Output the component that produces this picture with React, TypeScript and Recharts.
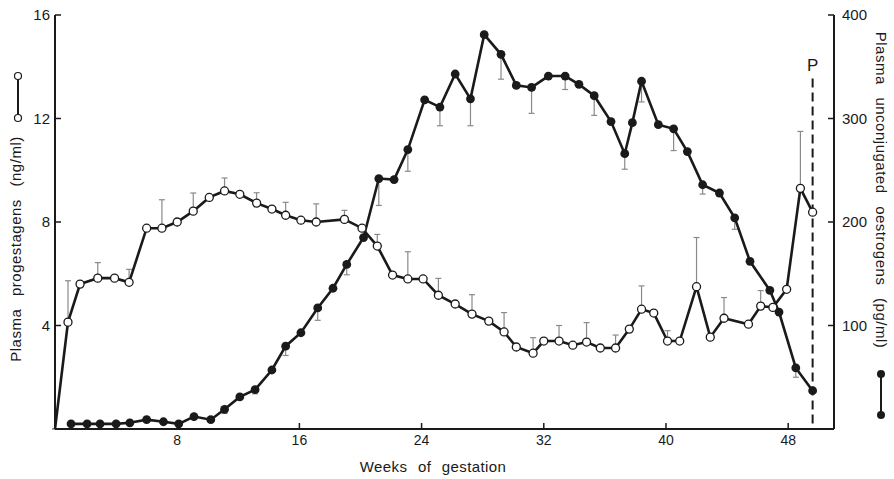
import { LineChart, Line, XAxis, YAxis, ErrorBar, ReferenceLine, ReferenceDot } from 'recharts';

const FONT = '"Liberation Sans", Arial, Helvetica, sans-serif';
const INK = '#1a1a1a';
const BAR = '#8a8a8a';

// progestagens, ng/ml (open circles); first point is the origin, drawn without a marker
const progWeeks = [
  0, 0.85, 1.64, 2.8, 3.9, 4.85, 6.0, 7.0, 8.0, 9.05, 10.1, 11.1, 12.1, 13.2, 14.2, 15.1, 16.1, 17.1,
  18.95, 20.1, 21.1, 22.1, 23.1, 24.1, 25.1, 26.2, 27.3, 28.4, 29.4, 30.2, 31.3, 32.0, 33.0, 33.9,
  34.8, 35.7, 36.7, 37.6, 38.4, 39.2, 40.1, 40.9, 42.0, 42.9, 43.8, 45.4, 46.2, 47.0, 47.9, 48.8, 49.6,
];
const progValues = [
  0, 4.13, 5.6, 5.83, 5.83, 5.67, 7.76, 7.76, 8.0, 8.42, 8.95, 9.2, 9.07, 8.73, 8.5, 8.26, 8.07, 8.0,
  8.1, 7.76, 7.07, 5.95, 5.8, 5.8, 5.17, 4.83, 4.44, 4.17, 3.75, 3.17, 2.93, 3.4, 3.4, 3.24,
  3.36, 3.13, 3.13, 3.86, 4.63, 4.48, 3.4, 3.4, 5.5, 3.55, 4.28, 4.05, 4.75, 4.7, 5.4, 9.3, 8.38,
];
const progErrUp = [
  0, 1.6, 0, 0.6, 0, 0.5, 0, 1.1, 0, 0.7, 0, 0.5, 0, 0.4, 0, 0.5, 0, 0.7,
  0.35, 0, 0.45, 0, 1.05, 0, 0.65, 0, 0.75, 0, 0.75, 0, 0.6, 0, 0.6, 0,
  0.75, 0, 0.5, 0, 0.9, 0, 0.4, 0, 1.9, 0, 0.8, 0, 0.6, 0, 0, 2.2, 0,
];

// unconjugated oestrogens, pg/ml (filled circles)
const oesWeeks = [
  1.05, 2.1, 2.95, 4.0, 4.9, 6.0, 7.1, 8.1, 9.1, 10.2, 11.1, 12.1, 13.1, 14.2, 15.1, 16.1, 17.2,
  18.2, 19.1, 20.2, 21.2, 22.2, 23.1, 24.2, 25.2, 26.2, 27.2, 28.1, 29.2, 30.2, 31.2, 32.3, 33.4,
  34.3, 35.3, 36.4, 37.3, 37.8, 38.4, 39.5, 40.5, 41.4, 42.4, 43.5, 44.5, 45.5, 46.8, 47.4, 48.5, 49.6,
];
const oesValues = [
  5, 5, 5, 5, 6, 9, 7, 5, 12, 9, 19, 31, 38, 57, 80, 93, 117,
  136, 159, 185, 242, 241, 270, 318, 311, 343, 319, 381, 362, 332, 330, 341, 341,
  333, 322, 297, 266, 296, 336, 294, 290, 268, 236, 228, 204, 162, 134, 113, 59, 37,
];
const oesErrDown = [
  0, 0, 0, 0, 0, 0, 0, 0, 0, 0, 4, 0, 4, 0, 9, 0, 12,
  0, 10, 0, 26, 0, 21, 0, 18, 0, 26, 0, 24, 0, 25, 0, 13,
  0, 19, 0, 15, 0, 20, 0, 21, 0, 9, 0, 11, 0, 0, 0, 9, 0,
];

const weekTicks = [8, 16, 24, 32, 40, 48];
const progTicks = [4, 8, 12, 16];
const oesTicks = [100, 200, 300, 400];
const partusWeek = 49.6;

const progData = progWeeks.map((week, i) => ({ week, value: progValues[i], err: [0, progErrUp[i]] }));
const oesData = oesWeeks.map((week, i) => ({ week, value: oesValues[i], err: [oesErrDown[i], 0] }));

const textStyle = { fontFamily: FONT, fill: INK };

const OpenDot = (props: any) => {
  const { cx, cy, index } = props;
  if (index === 0 || cx == null) return <g key={`o-${index}`} />;
  return <circle key={`o-${index}`} cx={cx} cy={cy} r={4} fill="#fff" stroke={INK} strokeWidth={1.3} />;
};

const FilledDot = (props: any) => {
  const { cx, cy, index } = props;
  if (cx == null) return <g key={`f-${index}`} />;
  return <circle key={`f-${index}`} cx={cx} cy={cy} r={4.4} fill={INK} stroke="none" />;
};

const LeftTick = ({ x, y, payload }: any) => (
  <g>
    <line x1={x + 5} x2={x + 11} y1={y} y2={y} stroke={INK} strokeWidth={1.5} />
    <text x={x} y={y} dy="0.36em" textAnchor="end" fontSize={15} {...textStyle}>
      {payload.value}
    </text>
  </g>
);

const RightTick = ({ x, y, payload }: any) => (
  <g>
    <line x1={x - 8} x2={x - 14} y1={y} y2={y} stroke={INK} strokeWidth={1.5} />
    <text x={x} y={y} dy="0.36em" textAnchor="start" fontSize={15} {...textStyle}>
      {payload.value}
    </text>
  </g>
);

const BottomTick = ({ x, y, payload }: any) => (
  <g>
    <line x1={x} x2={x} y1={y - 5} y2={y - 11} stroke={INK} strokeWidth={1.5} />
    <text x={x} y={y} dy="0.75em" textAnchor="middle" fontSize={14} {...textStyle}>
      {payload.value}
    </text>
  </g>
);

const LeftTitle = ({ viewBox }: any) => {
  const x = viewBox.x + 16;
  const y = 249;
  return (
    <text x={x} y={y} transform={`rotate(-90 ${x} ${y})`} textAnchor="middle" dy="0.35em"
      fontSize={15} letterSpacing={0.5} wordSpacing={8} {...textStyle}>
      Plasma progestagens (ng/ml)
    </text>
  );
};

const RightTitle = ({ viewBox }: any) => {
  const x = viewBox.x + 47;
  const y = 190;
  return (
    <text x={x} y={y} transform={`rotate(90 ${x} ${y})`} textAnchor="middle" dy="0.35em"
      fontSize={15} letterSpacing={0.5} wordSpacing={8} {...textStyle}>
      Plasma unconjugated oestrogens (pg/ml)
    </text>
  );
};

const BottomTitle = () => (
  <text x={433} y={467} textAnchor="middle" dy="0.35em" fontSize={15} letterSpacing={0.4}
    wordSpacing={6} {...textStyle}>
    Weeks of gestation
  </text>
);

export default function App() {
  return (
    <div style={{ position: 'absolute', left: 0, top: 0, width: 894, height: 479, background: '#fff' }}>
      <LineChart width={894} height={479} margin={{ top: 15, right: 0, bottom: 0, left: 0 }}>
        <XAxis
          dataKey="week"
          type="number"
          domain={[0, 51]}
          ticks={weekTicks}
          height={50}
          tickSize={0}
          tickMargin={5}
          tick={<BottomTick />}
          axisLine={{ stroke: INK, strokeWidth: 2 }}
          label={<BottomTitle />}
        />
        <YAxis
          yAxisId="left"
          domain={[0, 16]}
          ticks={progTicks}
          width={55}
          tickSize={0}
          tickMargin={5}
          tick={<LeftTick />}
          axisLine={{ stroke: INK, strokeWidth: 2 }}
          label={<LeftTitle />}
        />
        <YAxis
          yAxisId="right"
          orientation="right"
          domain={[0, 400]}
          ticks={oesTicks}
          width={60}
          tickSize={0}
          tickMargin={8}
          tick={<RightTick />}
          axisLine={{ stroke: INK, strokeWidth: 2 }}
          label={<RightTitle />}
        />
        <ReferenceLine
          yAxisId="left"
          segment={[{ x: partusWeek, y: 13.55 }, { x: partusWeek, y: 0 }]}
          stroke={INK}
          strokeWidth={2}
          strokeDasharray="9 5"
        />
        <ReferenceDot
          yAxisId="left"
          x={partusWeek}
          y={14.05}
          r={0}
          fill="none"
          stroke="none"
          label={{ value: 'P', position: 'center', fontSize: 17, fill: INK, fontFamily: FONT }}
        />
        <Line
          yAxisId="left"
          data={progData}
          dataKey="value"
          type="linear"
          stroke={INK}
          strokeWidth={2.6}
          dot={OpenDot}
          activeDot={false}
          isAnimationActive={false}
        >
          <ErrorBar dataKey="err" direction="y" width={3} stroke={BAR} strokeWidth={1.2} />
        </Line>
        <Line
          yAxisId="right"
          data={oesData}
          dataKey="value"
          type="linear"
          stroke={INK}
          strokeWidth={2.6}
          dot={FilledDot}
          activeDot={false}
          isAnimationActive={false}
        >
          <ErrorBar dataKey="err" direction="y" width={3} stroke={BAR} strokeWidth={1.2} />
        </Line>
      </LineChart>
      <svg width={894} height={479} style={{ position: 'absolute', left: 0, top: 0, pointerEvents: 'none' }}>
        <line x1={18} x2={18} y1={76} y2={118} stroke={INK} strokeWidth={2} />
        <circle cx={18} cy={76} r={3.5} fill="#fff" stroke={INK} strokeWidth={1.2} />
        <circle cx={18} cy={118} r={3.5} fill="#fff" stroke={INK} strokeWidth={1.2} />
        <line x1={881} x2={881} y1={374} y2={415} stroke={INK} strokeWidth={2} />
        <circle cx={881} cy={374} r={4} fill={INK} />
        <circle cx={881} cy={415} r={4} fill={INK} />
      </svg>
    </div>
  );
}
